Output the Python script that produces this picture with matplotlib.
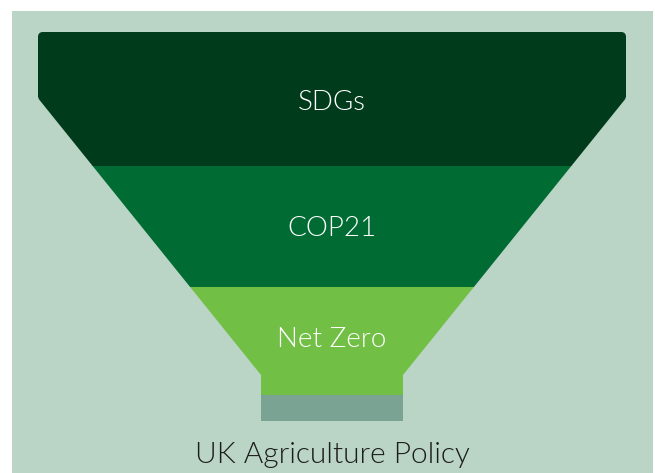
import numpy as np
import matplotlib
matplotlib.use('Agg')
import matplotlib.pyplot as plt
from matplotlib.patches import Rectangle, PathPatch
from matplotlib.path import Path

# funnel stages, top to bottom
stages = ['SDGs', 'COP21', 'Net Zero']
stage_colors = ['#003b1b', '#006b33', '#72bf45']
# band boundaries (pixel rows of the image)
band_edges = [32, 166, 287, 395]
base_label = 'UK Agriculture Policy'
base_edges = [395, 421]

W, H = 655, 473
fig = plt.figure(figsize=(W / 100, H / 100), dpi=100)
ax = fig.add_axes([0, 0, 1, 1])
ax.set_xlim(0, W)
ax.set_ylim(H, 0)
ax.axis('off')

# light green panel
ax.add_patch(Rectangle((12, 11), 641, H - 11, color='#bad5c5', lw=0))

# funnel outline: wide top, straight sides, then a narrow neck
left, right, cx = 38, 626, 332
neck_half = 71
shoulder = 98
neck_top = 375
r = 5
verts = [
    (left, 32 + r), (left, 32), (left + r, 32),
    (right - r, 32), (right, 32), (right, 32 + r),
    (right, shoulder - 2), (right, shoulder), (right - 1.5, shoulder + 2),
    (cx + neck_half, neck_top), (cx + neck_half, base_edges[1]),
    (cx - neck_half, base_edges[1]), (cx - neck_half, neck_top),
    (left + 1.5, shoulder + 2), (left, shoulder), (left, shoulder - 2),
    (left, 32 + r),
]
codes = [Path.MOVETO, Path.CURVE3, Path.CURVE3,
         Path.LINETO, Path.CURVE3, Path.CURVE3,
         Path.LINETO, Path.CURVE3, Path.CURVE3,
         Path.LINETO, Path.LINETO, Path.LINETO, Path.LINETO,
         Path.LINETO, Path.CURVE3, Path.CURVE3,
         Path.CLOSEPOLY]
funnel = PathPatch(Path(verts, codes), facecolor='none', edgecolor='none')
ax.add_patch(funnel)

text_font = ['Lato', 'DejaVu Sans']
for i, (name, col) in enumerate(zip(stages, stage_colors)):
    y0, y1 = band_edges[i], band_edges[i + 1]
    band = Rectangle((0, y0), W, y1 - y0, color=col, lw=0)
    ax.add_patch(band)
    band.set_clip_path(funnel)

label_y = [102, 228, 339]
for name, y in zip(stages, label_y):
    ax.text(cx, y, name, color='white', fontsize=20, ha='center', va='center',
            family=text_font, fontweight=300)

neck = Rectangle((0, base_edges[0]), W, base_edges[1] - base_edges[0],
                 color='#7ba393', lw=0)
ax.add_patch(neck)
neck.set_clip_path(funnel)

ax.text(cx, 455, base_label, color='#1c1c1c', fontsize=21.5, ha='center',
        va='center', family=text_font, fontweight=300)

plt.savefig('out.png', dpi=100, facecolor='white')
